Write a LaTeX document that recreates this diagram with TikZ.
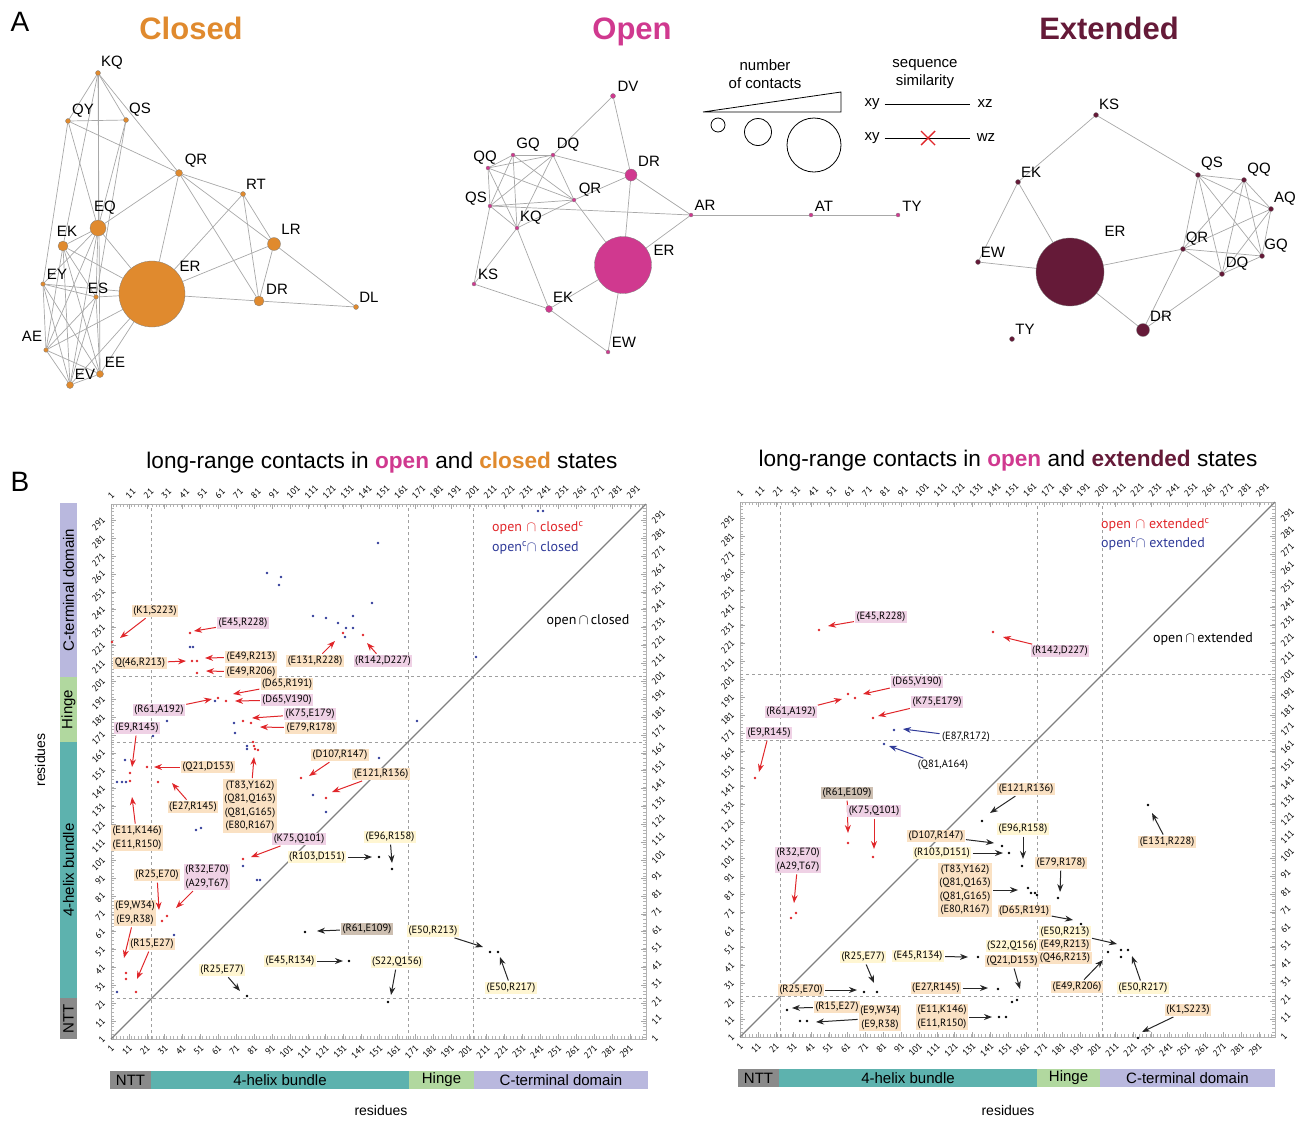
\documentclass[tikz,border=0pt]{standalone}
\usepackage{fontspec}
\setmainfont{Liberation Sans}
\newfontfamily\plotfont{PT Sans}
\usetikzlibrary{arrows.meta,backgrounds,positioning}

\definecolor{closedc}{HTML}{E08A2E}
\definecolor{openc}{HTML}{D0398F}
\definecolor{extc}{HTML}{651A38}
\definecolor{edgec}{HTML}{A8A8A8}
\definecolor{redc}{HTML}{E0262A}
\definecolor{bluec}{HTML}{2F3A98}
\definecolor{peach}{HTML}{FAE1C3}
\definecolor{pinkc}{HTML}{EFD1E5}
\definecolor{yellc}{HTML}{FFF6D2}
\definecolor{brownc}{HTML}{CDBFB1}
\definecolor{nttc}{HTML}{8A8A8A}
\definecolor{helixc}{HTML}{5DB2AE}
\definecolor{hingec}{HTML}{B1D89F}
\definecolor{ctermc}{HTML}{B9B8DE}

\tikzset{
	edge/.style={draw=edgec, line width=0.7pt},
	netlbl/.style={font=\fontsize{15}{15}\selectfont, inner sep=0pt},
	cnode/.style={circle, fill=closedc, draw=black!50, line width=0.3pt, inner sep=0pt, minimum size=#1},
	onode/.style={circle, fill=openc, draw=black!50, line width=0.3pt, inner sep=0pt, minimum size=#1},
	enode/.style={circle, fill=extc, draw=black!50, line width=0.3pt, inner sep=0pt, minimum size=#1},
	title/.style={font=\fontsize{31}{31}\selectfont\bfseries, anchor=base},
	btitle/.style={font=\fontsize{22.6}{22.6}\selectfont, anchor=base},
	legtxt/.style={font=\fontsize{15}{18}\selectfont, align=center, inner sep=1pt},
	lbox/.style={font=\plotfont\fontsize{10.5}{13.5}\selectfont, inner sep=1.5pt, align=center},
	lp/.style={lbox, fill=peach},
	lk/.style={lbox, fill=pinkc},
	ly/.style={lbox, fill=yellc},
	lb/.style={lbox, fill=brownc},
	ln/.style={lbox},
	ar/.style={-{Stealth[length=8pt,width=6pt]}, draw=redc, line width=1pt, shorten <=1pt},
	ab/.style={-{Stealth[length=8pt,width=6pt]}, draw=bluec, line width=1pt, shorten <=1pt},
	ak/.style={-{Stealth[length=8pt,width=6pt]}, draw=black!85, line width=1pt, shorten <=1pt},
	plotleg/.style={font=\plotfont\fontsize{14}{14}\selectfont, inner sep=0pt},
	ticklbl/.style={font=\plotfont\fontsize{9}{9}\selectfont, inner sep=0pt, rotate=45},
	dom/.style={font=\fontsize{15}{15}\selectfont, inner sep=0pt, minimum height=18pt},
	axlbl/.style={font=\fontsize{14}{14}\selectfont}
}

% network node and its label
\newcommand{\nnode}[6]{%
	\node[#1=#4] (#2#3) at (#5) {};
	\node[netlbl] (#2#3t) at (#6) {#3};
}
% annotation label with arrow
\newcommand{\ann}[6]{%
	\node[#2] (#1) at (#3) {#4};
	\coordinate (#1t) at (#6);
	\draw[#5] (#1) -- (#1t);
}
% contact points
\newcommand{\pts}[2]{\foreach \x/\y in {#2} \fill[#1] (\x,\y) circle (1.3pt);}
% residue frame, ticks, domain lines
\newcommand{\resplot}{%
	\draw[gray!60, line width=0.5pt] (1,1) rectangle (300,300);
	\draw[gray!60, line width=0.3pt] \foreach \r in {2,4,...,300} {(\r,1) -- (\r,2.5) (\r,300) -- (\r,298.5) (1,\r) -- (2.5,\r) (300,\r) -- (298.5,\r)};
	\draw[gray!70, line width=0.4pt] \foreach \r in {1,11,...,291} {(\r,1) -- (\r,4) (\r,300) -- (\r,297) (1,\r) -- (4,\r) (300,\r) -- (297,\r)};
	\foreach \r in {1,11,...,291} {
		\node[ticklbl, anchor=west] (tt\r) at (\r-1,304) {\r};
		\node[ticklbl, anchor=east] (tb\r) at (\r+1,-3) {\r};
		\node[ticklbl, anchor=east] (tl\r) at (-3,\r+1) {\r};
		\node[ticklbl, anchor=west] (tr\r) at (304,\r-1) {\r};
	}
	\draw[dashed, gray!75, line width=0.6pt] (23.5,1) -- (23.5,300) (167,1) -- (167,300) (203.5,1) -- (203.5,300);
	\draw[dashed, gray!75, line width=0.6pt] (1,23.5) -- (300,23.5) (1,167) -- (300,167) (1,203.5) -- (300,203.5);
	\draw[gray, line width=1.2pt] (1,1) -- (300,300);
}

\begin{document}
\begin{tikzpicture}[x=1pt, y=-1pt]
	\useasboundingbox (0,0) rectangle (1297,1120);

	% panel A titles
	\node[font=\fontsize{28}{28}\selectfont] (pA) at (20,22) {A};
	\node[title, text=closedc] (tClosed) at (191,39) {Closed};
	\node[title, text=openc] (tOpen) at (632,39) {Open};
	\node[title, text=extc] (tExt) at (1109,39) {Extended};

	% closed network
	\nnode{cnode}{c}{KQ}{5}{98,73}{112,63}
	\nnode{cnode}{c}{QY}{5}{68,121}{83,111}
	\nnode{cnode}{c}{QS}{5}{126,120}{140,110}
	\nnode{cnode}{c}{QR}{7}{179,173}{196,161}
	\nnode{cnode}{c}{RT}{5}{243,194}{256,184}
	\nnode{cnode}{c}{EQ}{16}{98,228}{105,208}
	\nnode{cnode}{c}{EK}{10}{63,246}{67,231}
	\nnode{cnode}{c}{LR}{13}{274,244}{291,229}
	\nnode{cnode}{c}{EY}{4.5}{43,284}{57,274}
	\nnode{cnode}{c}{ES}{4.5}{96,297}{98,288}
	\nnode{cnode}{c}{ER}{66}{152,294}{190,266}
	\nnode{cnode}{c}{DR}{10}{259,301}{277,289}
	\nnode{cnode}{c}{DL}{5}{356,307}{369,297}
	\nnode{cnode}{c}{AE}{4.5}{46,350}{32,336}
	\nnode{cnode}{c}{EE}{7}{100,374}{115,362}
	\nnode{cnode}{c}{EV}{7}{70,385}{85,374}
	\begin{scope}[on background layer]
		\foreach \a/\b in {KQ/QY,KQ/QS,KQ/QR,KQ/EQ,KQ/EK,KQ/EE,QY/QS,QY/QR,QY/EQ,QY/EY,QS/EQ,QS/ES,
			QR/RT,QR/LR,QR/DR,QR/ER,QR/EQ,RT/ER,RT/DR,RT/LR,LR/ER,LR/DR,LR/DL,DR/ER,DR/DL,
			EQ/EK,EQ/ER,EQ/EY,EQ/AE,EQ/EV,EQ/ES,EK/ER,EK/ES,EK/EV,EK/AE,EK/EE,
			EY/ES,EY/ER,EY/AE,EY/EV,EY/EE,ES/ER,ES/AE,ES/EV,ES/EE,AE/ER,AE/EV,AE/EE,EV/EE,EE/ER,EV/ER}
			\draw[edge] (c\a) -- (c\b);
	\end{scope}

	% open network
	\nnode{onode}{o}{DV}{5}{613,96}{628,86}
	\nnode{onode}{o}{GQ}{4}{513,155}{528,145}
	\nnode{onode}{o}{DQ}{4}{553,155}{568,145}
	\nnode{onode}{o}{QQ}{4}{488,168}{485,158}
	\nnode{onode}{o}{DR}{12}{631,175}{649,161}
	\nnode{onode}{o}{QR}{4}{574,200}{590,190}
	\nnode{onode}{o}{QS}{4}{490,206}{476,199}
	\nnode{onode}{o}{AR}{4}{691,215}{705,205}
	\nnode{onode}{o}{KQ}{4}{517,228}{531,218}
	\nnode{onode}{o}{ER}{57}{623,265}{664,250}
	\nnode{onode}{o}{KS}{4}{474,284}{488,274}
	\nnode{onode}{o}{EK}{7}{549,309}{563,297}
	\nnode{onode}{o}{EW}{4}{608,352}{624,342}
	\nnode{onode}{o}{AT}{4}{811,215}{824,206}
	\nnode{onode}{o}{TY}{4}{898,215}{912,206}
	\begin{scope}[on background layer]
		\foreach \a/\b in {DV/DQ,DV/DR,DQ/GQ,DQ/QQ,DQ/QS,DQ/KQ,DQ/QR,DQ/DR,GQ/QQ,GQ/QS,GQ/KQ,GQ/QR,
			QQ/QS,QQ/KQ,QQ/QR,QS/QR,QS/KQ,QS/KS,QR/KQ,QR/DR,QR/ER,QS/AR,DR/ER,DR/AR,ER/AR,
			KQ/KS,KQ/EK,KS/EK,EK/ER,EK/EW,ER/EW,AR/AT,AT/TY}
			\draw[edge] (o\a) -- (o\b);
	\end{scope}

	% legend
	\node[legtxt] (nc) at (765,74) {number\\of contacts};
	\draw[line width=0.8pt] (703,112) -- (841,92) -- (841,112) -- cycle;
	\node[circle, draw, line width=0.8pt, minimum size=14pt, inner sep=0pt] (lc1) at (718,125) {};
	\node[circle, draw, line width=0.8pt, minimum size=27pt, inner sep=0pt] (lc2) at (758,132) {};
	\node[circle, draw, line width=0.8pt, minimum size=54pt, inner sep=0pt] (lc3) at (814,145) {};
	\node[legtxt] (ss) at (925,74) {sequence\\similarity};
	\node[legtxt] (xy1) at (872,104) {xy};
	\node[legtxt] (xz) at (985,104) {xz};
	\node[legtxt] (xy2) at (872,138) {xy};
	\node[legtxt] (wz) at (986,138) {wz};
	\draw[line width=0.8pt, shorten <=4pt, shorten >=6pt] (xy1) -- (xz);
	\draw[line width=0.8pt, shorten <=4pt, shorten >=6pt] (xy2) -- (wz);
	\coordinate (xm) at (928,138);
	\draw[redc, line width=1.4pt] ([shift={(-7,-7)}]xm) -- ([shift={(7,7)}]xm) ([shift={(-7,7)}]xm) -- ([shift={(7,-7)}]xm);

	% extended network
	\nnode{enode}{e}{KS}{5}{1096,115}{1109,104}
	\nnode{enode}{e}{EK}{5}{1018,182}{1031,172}
	\nnode{enode}{e}{QS}{5}{1198,175}{1212,164}
	\nnode{enode}{e}{QQ}{5}{1244,180}{1259,170}
	\nnode{enode}{e}{AQ}{5}{1271,209}{1285,199}
	\nnode{enode}{e}{ER}{68}{1070,272}{1115,231}
	\nnode{enode}{e}{QR}{5}{1183,249}{1197,239}
	\nnode{enode}{e}{GQ}{5}{1262,256}{1276,246}
	\nnode{enode}{e}{DQ}{5}{1222,274}{1237,264}
	\nnode{enode}{e}{EW}{5}{978,262}{993,252}
	\nnode{enode}{e}{DR}{13}{1143,330}{1161,316}
	\nnode{enode}{e}{TY}{5}{1012,339}{1025,329}
	\begin{scope}[on background layer]
		\foreach \a/\b in {KS/EK,KS/QS,EK/EW,EK/ER,EW/ER,ER/QR,ER/DR,DR/QR,DR/DQ,QS/QQ,QS/AQ,QS/QR,
			QS/DQ,QS/GQ,QQ/AQ,QQ/QR,QQ/DQ,QQ/GQ,AQ/QR,AQ/DQ,AQ/GQ,QR/GQ,QR/DQ,DQ/GQ}
			\draw[edge] (e\a) -- (e\b);
	\end{scope}

	% panel B titles
	\node[font=\fontsize{28}{28}\selectfont] (pB) at (20,482) {B};
	\node[btitle] (tLeft) at (382,468) {long-range contacts in {\bfseries\color{openc}open} and {\bfseries\color{closedc}closed} states};
	\node[btitle] (tRight) at (1008,466) {long-range contacts in {\bfseries\color{openc}open} and {\bfseries\color{extc}extended} states};

	% left contact map
	\begin{scope}[shift={(109.2,1040.8)}, x=1.789pt, y=1.789pt]
		\resplot
	\end{scope}
	\node[plotleg, text=redc, anchor=west] (lgL1) at (492,528) {open\,\,$\cap$ closed\textsuperscript{c}};
	\node[plotleg, text=bluec, anchor=west] (lgL2) at (492,548) {open\textsuperscript{c}$\cap$ closed};
	\node[plotleg] (lgL3) at (588,621) {open$\,\cap\,$closed};

	\pts{redc}{112/642,190/633,192/661,197/661,197/673,343/633,363/635,226/701,218/698,243/721,251/723,
		130/773,130/781,147/767,253/742,254/746,255/749,258/750,301/778,326/798,158/782,243/859,
		154/915,162/921,167/916,126/973,126/979,136/992}
	\pts{bluec}{190/647,193/647,267/573,281/577,279/585,378/543,372/603,313/616,326/618,338/623,353/616,
		346/628,353/628,345/637,215/701,234/723,235/733,167/721,153/736,417/721,125/760,117/782,
		122/782,126/782,247/749,247/746,379/758,313/795,326/812,196/830,201/828,243/866,257/880,
		260/880,174/935,117/992,538/511,543/511,476/657}
	\pts{black}{379/857,392/869,305/932,349/961,388/1002,247/996,490/952,498/952}

	\ann{a1}{lp}{155,611}{(K1,S223)}{ar}{120,638}
	\ann{a2}{lk}{243,623}{(E45,R228)}{ar}{194,631}
	\ann{a3}{lp}{140,663}{Q(46,R213)}{ar}{186,661}
	\ann{a4}{lp}{251,657}{(E49,R213)}{ar}{205,658}
	\ann{a5}{lp}{251,672}{(E49,R206)}{ar}{206,671}
	\ann{a6}{lp}{315,661}{(E131,R228)}{ar}{335,641}
	\ann{a7}{lk}{383,661}{(R142,D227)}{ar}{367,643}
	\ann{a8}{lp}{287,684}{(D65,R191)}{ar}{233,694}
	\ann{a9}{lk}{287,700}{(D65,V190)}{ar}{235,701}
	\ann{a10}{lk}{159,710}{(R61,A192)}{ar}{212,699}
	\ann{a11}{lk}{310,714}{(K75,E179)}{ar}{252,718}
	\ann{a12}{lp}{311,728}{(E79,R178)}{ar}{260,727}
	\ann{a13}{lk}{137,728}{(E9,R145)}{ar}{132,767}
	\ann{a14}{lp}{208,767}{(Q21,D153)}{ar}{154,767}
	\ann{a15}{lp}{193,807}{(E27,R145)}{ar}{172,783}
	\ann{a16}{lp}{137,838}{(E11,K146)\\(E11,R150)}{ar}{132,797}
	\ann{a17}{lp}{250,806}{(T83,Y162)\\(Q81,Q163)\\(Q81,G165)\\(E80,R167)}{ar}{254,757}
	\ann{a18}{lp}{340,755}{(D107,R147)}{ar}{309,776}
	\ann{a19}{lp}{381,774}{(E121,R136)}{ar}{332,792}
	\ann{a20}{lk}{299,839}{(K75,Q101)}{ar}{251,857}
	\ann{a21}{ly}{317,857}{(R103,D151)}{ak}{372,857}
	\ann{a22}{ly}{390,837}{(E96,R158)}{ak}{392,863}
	\ann{a23}{lp}{157,875}{(R25,E70)}{ar}{159,910}
	\ann{a24}{lk}{207,877}{(R32,E70)\\(A29,T67)}{ar}{176,908}
	\ann{a25}{lp}{135,913}{(E9,W34)\\(E9,R38)}{ar}{124,958}
	\ann{a26}{lp}{152,944}{(R15,E27)}{ar}{137,979}
	\ann{a27}{lb}{367,929}{(R61,E109)}{ak}{317,931}
	\ann{a28}{ly}{290,961}{(E45,R134)}{ak}{343,961}
	\ann{a29}{ly}{397,962}{(S22,Q156)}{ak}{391,995}
	\ann{a30}{ly}{222,970}{(R25,E77)}{ak}{240,991}
	\ann{a31}{ly}{433,931}{(E50,R213)}{ak}{483,947}
	\ann{a32}{ly}{511,988}{(E50,R217)}{ak}{500,957}

	% left domain bars
	\node[dom, fill=nttc, minimum width=41pt] (bL1) at (130.5,1080) {NTT};
	\node[dom, fill=helixc, minimum width=258pt] (bL2) at (280,1080) {4-helix bundle};
	\node[dom, fill=hingec, minimum width=65pt] (bL3) at (441.5,1080) {Hinge};
	\node[dom, fill=ctermc, minimum width=174pt] (bL4) at (561,1080) {C-terminal domain};
	\node[dom, fill=ctermc, minimum width=174pt, minimum height=17pt, rotate=90] (vL4) at (68.5,590) {C-terminal domain};
	\node[dom, fill=hingec, minimum width=65pt, minimum height=17pt, rotate=90] (vL3) at (68.5,709.5) {Hinge};
	\node[dom, fill=helixc, minimum width=256pt, minimum height=17pt, rotate=90] (vL2) at (68.5,870) {4-helix bundle};
	\node[dom, fill=nttc, minimum width=41pt, minimum height=17pt, rotate=90] (vL1) at (68.5,1018.5) {NTT};
	\node[axlbl] (xL) at (381,1110) {residues};
	\node[axlbl, rotate=90] (yL) at (40,760) {residues};

	% right contact map
	\begin{scope}[shift={(738.2,1038.8)}, x=1.789pt, y=1.789pt]
		\resplot
	\end{scope}
	\node[plotleg, text=redc, anchor=west] (lgR1) at (1101,525) {open\,\,$\cap$ extended\textsuperscript{c}};
	\node[plotleg, text=bluec, anchor=west] (lgR2) at (1101,544) {open\textsuperscript{c}$\cap$ extended};
	\node[plotleg] (lgR3) at (1203,639) {open$\,\cap\,$extended};

	\pts{redc}{819/630,993/632,848/694,855/698,873/718,755/778,848/843,873/857,791/918,796/913}
	\pts{bluec}{894/730,884/744}
	\pts{black}{982/821,1002/846,1009/853,1022/866,1028/888,1031/893,1035/893,1037/895,1058/898,
		1081/924,1108/952,1121/950,1121/957,1128/950,1148/805,1012/1002,1017/1000,978/957,864/992,
		877/992,998/989,787/1010,800/1021,807/1021,999/1017,1006/1017,1138/1038}

	\ann{b1}{lk}{881,617}{(E45,R228)}{ar}{828,626}
	\ann{b2}{lk}{1060,651}{(R142,D227)}{ar}{1003,637}
	\ann{b3}{lk}{917,682}{(D65,V190)}{ar}{863,694}
	\ann{b4}{lk}{791,712}{(R61,A192)}{ar}{842,699}
	\ann{b5}{lk}{937,702}{(K75,E179)}{ar}{878,716}
	\ann{b6}{ln}{966,737}{(E87,R172)}{ab}{903,729}
	\ann{b7}{ln}{943,765}{(Q81,A164)}{ab}{889,746}
	\ann{b8}{lk}{769,733}{(E9,R145)}{ar}{759,772}
	\ann{b9}{lb}{847,793}{(R61,E109)}{ar}{848,833}
	\ann{b10}{lk}{874,811}{(K75,Q101)}{ar}{874,849}
	\ann{b11}{lk}{798,860}{(R32,E70)\\(A29,T67)}{ar}{794,903}
	\ann{b12}{lp}{1026,789}{(E121,R136)}{ak}{990,813}
	\ann{b13}{lp}{936,836}{(D107,R147)}{ak}{994,843}
	\ann{b14}{ly}{942,853}{(R103,D151)}{ak}{1003,853}
	\ann{b15}{ly}{1023,829}{(E96,R158)}{ak}{1023,859}
	\ann{b16}{lp}{965,890}{(T83,Y162)\\(Q81,Q163)\\(Q81,G165)\\(E80,R167)}{ak}{1018,890}
	\ann{b17}{lp}{1061,863}{(E79,R178)}{ak}{1060,892}
	\ann{b18}{lp}{1024,911}{(D65,R191)}{ak}{1073,920}
	\ann{b19}{ly}{1065,932}{(E50,R213)}{ak}{1117,944}
	\node[lp] (b19b) at (1065,945) {(E49,R213)};
	\node[lp] (b19c) at (1065,958) {(Q46,R213)};
	\node[ly] (b20) at (1012,946) {(S22,Q156)};
	\ann{b21}{lp}{1012,961}{(Q21,D153)}{ak}{1020,989}
	\ann{b22}{lp}{1077,987}{(E49,R206)}{ak}{1103,960}
	\ann{b23}{ly}{1143,988}{(E50,R217)}{ak}{1132,956}
	\ann{b24}{lp}{1188,1010}{(K1,S223)}{ak}{1142,1032}
	\ann{b25}{lp}{1167,842}{(E131,R228)}{ak}{1152,813}
	\ann{b26}{ly}{918,956}{(E45,R134)}{ak}{968,957}
	\ann{b27}{ly}{863,957}{(R25,E77)}{ak}{874,983}
	\ann{b28}{lp}{936,988}{(E27,R145)}{ak}{988,988}
	\ann{b29}{lp}{801,990}{(R25,E70)}{ak}{857,990}
	\ann{b30}{lp}{837,1007}{(R15,E27)}{ak}{792,1008}
	\ann{b31}{lp}{880,1018}{(E9,W34)\\(E9,R38)}{ak}{816,1022}
	\ann{b32}{lp}{942,1017}{(E11,K146)\\(E11,R150)}{ak}{992,1017}

	% right domain bar
	\node[dom, fill=nttc, minimum width=41pt] (bR1) at (758.5,1078) {NTT};
	\node[dom, fill=helixc, minimum width=258pt] (bR2) at (908,1078) {4-helix bundle};
	\node[dom, fill=hingec, minimum width=63pt] (bR3) at (1068.5,1078) {Hinge};
	\node[dom, fill=ctermc, minimum width=175pt] (bR4) at (1187.5,1078) {C-terminal domain};
	\node[axlbl] (xR) at (1008,1110) {residues};
\end{tikzpicture}
\end{document}
